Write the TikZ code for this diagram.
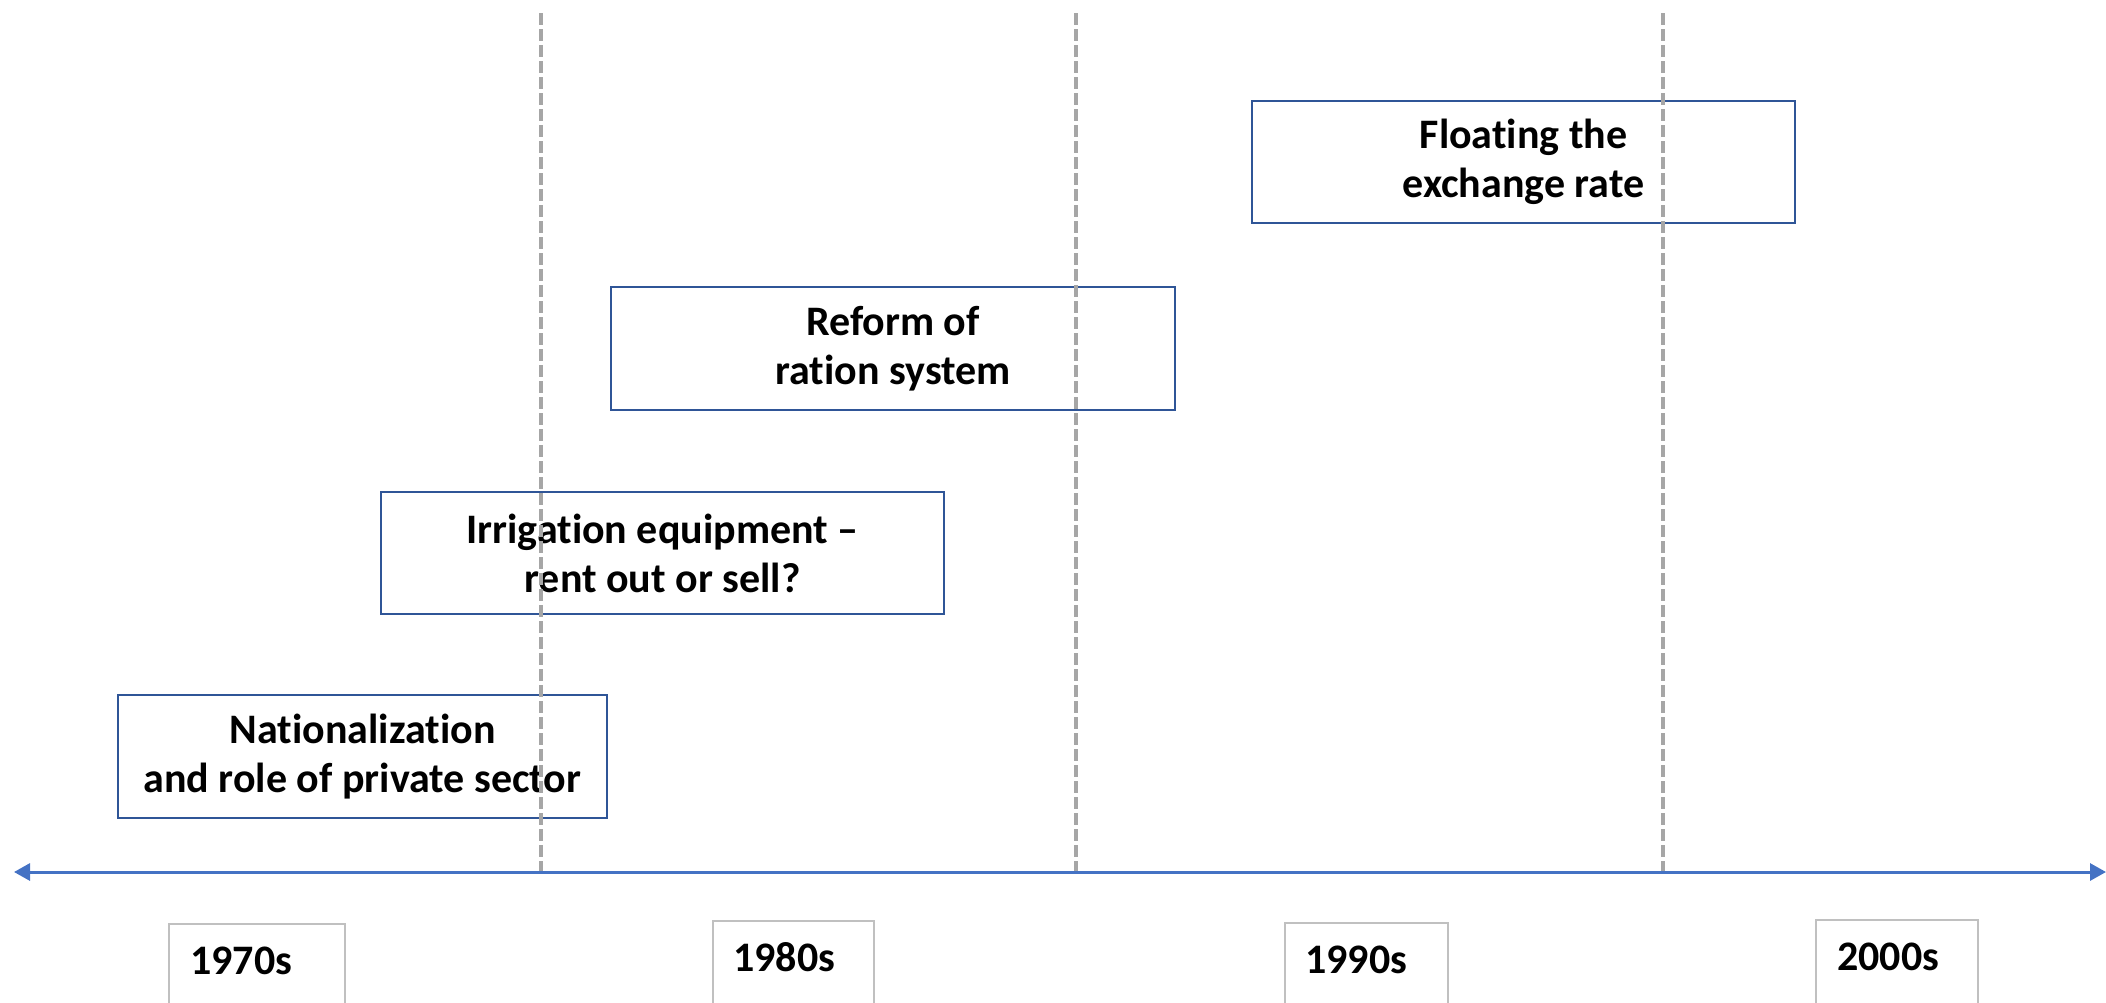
\documentclass[tikz,border=0pt]{standalone}
\usepackage{fontspec}
\setmainfont[Ligatures=NoCommon]{Carlito}
\usetikzlibrary{arrows.meta}
\definecolor{boxblue}{HTML}{2F5597}
\definecolor{axisblue}{HTML}{4472C4}
\definecolor{dashgray}{HTML}{A6A6A6}
\definecolor{framegray}{HTML}{C0C0C0}
\begin{document}
\begin{tikzpicture}[x=1pt,y=-1pt,
  evbox/.style={draw=boxblue, line width=2pt, align=center, inner sep=0pt,
    font=\bfseries\fontsize{42}{49}\selectfont},
  yeartext/.style={font=\bfseries\fontsize{42}{48}\selectfont, inner sep=0pt},
  yearframe/.style={draw=framegray, line width=2pt},
  divider/.style={draw=dashgray, line width=4pt, dash pattern=on 12pt off 4pt},
  axis/.style={draw=axisblue, line width=3pt, {Triangle[length=16pt,width=17pt]}-{Triangle[length=16pt,width=17pt]}}]
\useasboundingbox (0,0) rectangle (2106,1002);
% coordinates
\coordinate (axL) at (14,872);
\coordinate (axR) at (2106,872);
\coordinate (d1t) at (541,13);
\coordinate (d1b) at (541,872);
\coordinate (d2t) at (1076,13);
\coordinate (d2b) at (1076,872);
\coordinate (d3t) at (1663,13);
\coordinate (d3b) at (1663,872);
% event boxes
\node[evbox, minimum width=489pt, minimum height=123pt] (nat) at (362.5,756.5)
  {Nationalization\\and role of private sector};
\node[evbox, minimum width=563pt, minimum height=122pt] (irr) at (662.5,553)
  {Irrigation equipment --\\rent out or sell?};
\node[evbox, minimum width=564pt, minimum height=123pt] (ref) at (893,348.5)
  {Reform of\\ration system};
\node[evbox, minimum width=543pt, minimum height=122pt] (flo) at (1523.5,162)
  {Floating the\\exchange rate};
% dividers
\draw[divider] (d1t) -- (d1b);
\draw[divider] (d2t) -- (d2b);
\draw[divider] (d3t) -- (d3b);
% axis
\draw[axis] (axL) -- (axR);
% year frames
\draw[yearframe] (169,1012) |- (345,924) -- (345,1012);
\draw[yearframe] (713,1012) |- (874,921) -- (874,1012);
\draw[yearframe] (1285,1012) |- (1448,923) -- (1448,1012);
\draw[yearframe] (1816,1012) |- (1978,920) -- (1978,1012);
\node[yeartext, anchor=base west] (y70) at (190,974) {1970s};
\node[yeartext, anchor=base west] (y80) at (733,971) {1980s};
\node[yeartext, anchor=base west] (y90) at (1305,973) {1990s};
\node[yeartext, anchor=base west] (y00) at (1837,970) {2000s};
\end{tikzpicture}
\end{document}
